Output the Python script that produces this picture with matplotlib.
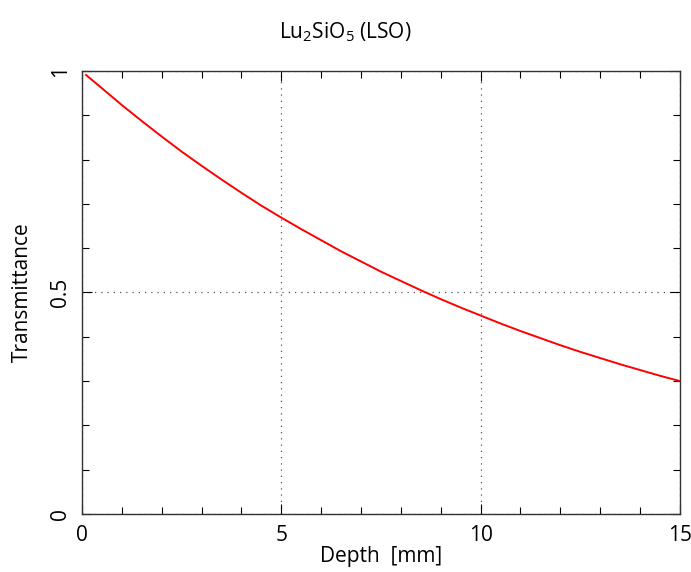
import matplotlib
matplotlib.use("Agg")
import matplotlib.pyplot as plt
from matplotlib.ticker import MultipleLocator

plt.rcParams['font.family'] = ['Open Sans', 'DejaVu Sans']
plt.rcParams['mathtext.fontset'] = 'custom'
plt.rcParams['mathtext.rm'] = 'Open Sans'
plt.rcParams['mathtext.it'] = 'Open Sans'

# values
depth = [0.1, 0.5, 1, 1.5, 2, 2.5, 3, 3.5, 4, 4.5, 5, 5.5, 6, 6.5, 7, 7.5,
         8, 8.5, 9, 9.5, 10, 10.5, 11, 11.5, 12, 12.5, 13, 13.5, 14, 14.5, 15]
transmittance = [0.991, 0.961, 0.923, 0.887, 0.852, 0.818, 0.786, 0.755,
                 0.725, 0.696, 0.669, 0.643, 0.618, 0.593, 0.570, 0.547,
                 0.526, 0.505, 0.485, 0.466, 0.448, 0.430, 0.413, 0.397,
                 0.381, 0.366, 0.352, 0.338, 0.325, 0.312, 0.300]

fig = plt.figure(figsize=(6.91, 5.72), dpi=100)
ax = fig.add_axes([0.1187, 0.1014, 0.8653, 0.7745])

ax.plot(depth, transmittance, color='red', lw=1.4)

ax.set_xlim(0, 15)
ax.set_ylim(0, 1)
ax.xaxis.set_major_locator(MultipleLocator(5))
ax.xaxis.set_minor_locator(MultipleLocator(1))
ax.yaxis.set_minor_locator(MultipleLocator(0.1))
ax.set_yticks([0, 0.5, 1])
ax.set_yticklabels(['0', '0.5', '1'], rotation=90, va='center')

ax.tick_params(which='both', direction='in', top=True, right=True,
               labelsize=15, color='black')
ax.tick_params(which='major', length=7, width=0.8, pad=8)
ax.tick_params(which='minor', length=5, width=0.8)

ax.grid(True, which='major', linestyle=(0, (1, 4)), color='#555555', lw=0.9)
for s in ax.spines.values():
    s.set_linewidth(1.0)
    s.set_color('#333333')

ax.set_xlabel('Depth  [mm]', fontsize=15, labelpad=0)
ax.set_ylabel('Transmittance', fontsize=15, labelpad=12)
fig.suptitle('Lu$_2$SiO$_5$ (LSO)', fontsize=15, y=0.965)

fig.savefig('out.png', dpi=100)
